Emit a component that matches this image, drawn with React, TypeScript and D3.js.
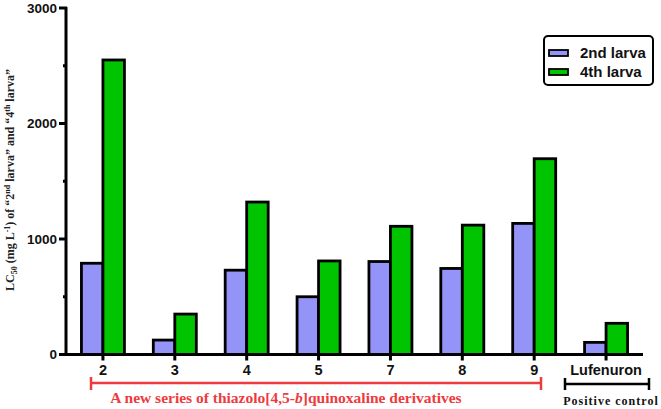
import React from "react";
import * as d3 from "d3";

const categories = ["2", "3", "4", "5", "7", "8", "9", "Lufenuron"];
const larva2 = [790, 125, 730, 500, 805, 745, 1135, 105];
const larva4 = [2550, 350, 1320, 810, 1110, 1120, 1695, 270];
const seriesNames = ["2nd larva", "4th larva"];
const seriesColors = ["#9494f8", "#00c400"];
const yMajorTicks = [0, 1000, 2000, 3000];
const yMinorTicks = [500, 1500, 2500];

const W = 661;
const H = 409;
const left = 67;
const right = 642;
const top = 8;
const bottom = 354.5;

export default function App() {
  const x = d3.scaleBand<string>().domain(categories).range([left, right]).padding(0);
  const y = d3.scaleLinear().domain([0, 3000]).range([bottom, top]);
  const barW = 21.5;
  const sans = "'Liberation Sans', Arial, sans-serif";
  const serif = "'Liberation Serif', 'Times New Roman', serif";
  const red = "#ee3b3e";

  const redStart = 91;
  const redEnd = 541;
  const blkStart = 565;
  const blkEnd = 649;

  return (
    <svg width={W} height={H} style={{ position: "absolute", left: 0, top: 0, background: "#fff" }}>
      {/* bars */}
      {categories.map((c, i) => {
        const cx = (x(c) as number) + x.bandwidth() / 2;
        return (
          <g key={c}>
            <rect x={cx - barW} y={y(larva2[i])} width={barW} height={bottom - y(larva2[i])}
              fill={seriesColors[0]} stroke="#000" strokeWidth={2.8} />
            <rect x={cx} y={y(larva4[i])} width={barW} height={bottom - y(larva4[i])}
              fill={seriesColors[1]} stroke="#000" strokeWidth={2.8} />
          </g>
        );
      })}
      {/* y axis */}
      <line x1={left - 1} x2={left - 1} y1={y(3000) - 1} y2={bottom + 1.5} stroke="#000" strokeWidth={3} />
      {yMajorTicks.map((t) => (
        <g key={t}>
          <line x1={left - 8} x2={left} y1={y(t)} y2={y(t)} stroke="#000" strokeWidth={3} />
          <text x={left - 10} y={y(t)} dy="0.36em" textAnchor="end" fontFamily={sans} fontWeight="bold" fontSize={13.5} fill="#111">{t}</text>
        </g>
      ))}
      {yMinorTicks.map((t) => (
        <line key={t} x1={left - 4} x2={left} y1={y(t)} y2={y(t)} stroke="#000" strokeWidth={3} />
      ))}
      {/* x axis */}
      <line x1={left - 2} x2={right + 1} y1={bottom} y2={bottom} stroke="#000" strokeWidth={3} />
      {categories.map((c) => {
        const cx = (x(c) as number) + x.bandwidth() / 2;
        return (
          <g key={c}>
            <line x1={cx} x2={cx} y1={bottom} y2={bottom + 6} stroke="#000" strokeWidth={3} />
            <text x={cx} y={bottom + 20} textAnchor="middle" fontFamily={sans} fontWeight="bold" fontSize={14.5} fill="#111">{c}</text>
          </g>
        );
      })}
      {/* y title */}
      <text transform={`translate(14, 180) rotate(-90)`} textAnchor="middle" fontFamily={serif} fontWeight="bold" fontSize={12} fill="#222">
        LC<tspan fontSize={8} dy="3">50</tspan><tspan dy="-3">  (mg L</tspan><tspan fontSize={8} dy="-4">-1</tspan><tspan dy="4">) of “2</tspan><tspan fontSize={8} dy="-4">nd</tspan><tspan dy="4"> larva” and “4</tspan><tspan fontSize={8} dy="-4">th</tspan><tspan dy="4"> larva”</tspan>
      </text>
      {/* legend */}
      <rect x={544} y={36} width={109} height={49} rx={4} fill="#fff" stroke="#000" strokeWidth={2} />
      {seriesNames.map((s, i) => (
        <g key={s}>
          <rect x={549} y={50 + i * 19} width={19} height={6} fill={seriesColors[i]} stroke="#000" strokeWidth={1.8} />
          <text x={580} y={53 + i * 19} dy="0.36em" fontFamily={sans} fontWeight="bold" fontSize={15} fill="#111">{s}</text>
        </g>
      ))}
      {/* red bracket */}
      <line x1={redStart} x2={redEnd} y1={383} y2={383} stroke={red} strokeWidth={2.5} />
      <line x1={redStart} x2={redStart} y1={377} y2={390} stroke={red} strokeWidth={2.5} />
      <line x1={redEnd} x2={redEnd} y1={377} y2={390} stroke={red} strokeWidth={2.5} />
      <text x={286} y={403} textAnchor="middle" fontFamily={serif} fontWeight="bold" fontSize={15.5} fill={red}>
        A new series of thiazolo[4,5-<tspan fontStyle="italic">b</tspan>]quinoxaline derivatives
      </text>
      {/* black bracket */}
      <line x1={blkStart} x2={blkEnd} y1={384} y2={384} stroke="#000" strokeWidth={2.5} />
      <line x1={blkStart} x2={blkStart} y1={378} y2={390} stroke="#000" strokeWidth={2.5} />
      <line x1={blkEnd} x2={blkEnd} y1={378} y2={390} stroke="#000" strokeWidth={2.5} />
      <text x={611} y={405} textAnchor="middle" fontFamily={serif} fontWeight="bold" fontSize={12} letterSpacing={1} fill="#111">Positive control</text>
    </svg>
  );
}
